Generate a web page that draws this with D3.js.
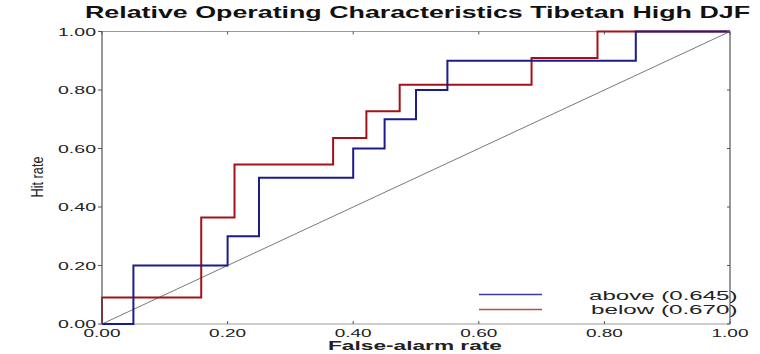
<!DOCTYPE html>
<html><head><meta charset="utf-8">
<script src="https://cdn.jsdelivr.net/npm/d3@7"></script>
<style>body{margin:0;background:#fff}svg{display:block}</style>
</head><body><svg id="c" width="760" height="354"></svg>
<script>
const title = "Relative Operating Characteristics Tibetan High DJF";
const xLabel = "False-alarm rate";
const yLabel = "Hit rate";
const ticks = [0, 0.2, 0.4, 0.6, 0.8, 1.0];
const tickLabels = ["0.00", "0.20", "0.40", "0.60", "0.80", "1.00"];
const seriesNames = ["above (0.645)", "below (0.670)"];
const seriesColors = ["#1c1c8e", "#a31218"];
const legendColors = ["#3b3ba3", "#c24a4a"];
// ROC points (false-alarm rate, hit rate), drawn as steps
const aboveFAR = [0, 0.05, 0.20, 0.25, 0.40, 0.45, 0.50, 0.55, 0.85, 1.00];
const aboveHR  = [0, 0.20, 0.30, 0.50, 0.60, 0.70, 0.80, 0.90, 1.00, 1.00];
const belowFAR = [0, 0, 0.158, 0.211, 0.368, 0.421, 0.474, 0.684, 0.789, 1.00];
const belowHR  = [0, 0.091, 0.364, 0.545, 0.636, 0.727, 0.818, 0.909, 1.00, 1.00];

const svg = d3.select("#c");
const L = 102, R = 730, T = 31.5, B = 324;
const x = d3.scaleLinear().domain([0, 1]).range([L, R]);
const y = d3.scaleLinear().domain([0, 1]).range([B, T]);
const ff = "Liberation Sans, Arial, sans-serif";

svg.append("text").attr("x", 417.5).attr("y", 18).attr("text-anchor", "middle")
  .attr("font-family", ff).attr("font-weight", "bold")
  .attr("font-size", 16.5).attr("textLength", 665).attr("lengthAdjust", "spacingAndGlyphs")
  .attr("fill", "#111").text(title);

// diagonal
svg.append("line").attr("x1", x(0)).attr("y1", y(0)).attr("x2", x(1)).attr("y2", y(1))
  .attr("stroke", "#6a6a6a").attr("stroke-width", 0.9);

// frame top/bottom
svg.append("line").attr("x1", L).attr("x2", R).attr("y1", T).attr("y2", T).attr("stroke", "#9a9a9a").attr("stroke-width", 1.2);
svg.append("line").attr("x1", L).attr("x2", R).attr("y1", B).attr("y2", B).attr("stroke", "#9a9a9a").attr("stroke-width", 1.2);

const line = d3.line().x(d => x(d[0])).y(d => y(d[1])).curve(d3.curveStepAfter);
const below = belowFAR.map((v, i) => [v, belowHR[i]]);
const above = aboveFAR.map((v, i) => [v, aboveHR[i]]);
svg.append("path").attr("d", line(below)).attr("fill", "none").attr("stroke", seriesColors[1]).attr("stroke-width", 2);
svg.append("path").attr("d", line(above)).attr("fill", "none").attr("stroke", seriesColors[0]).attr("stroke-width", 2);

// left / right axis lines
svg.append("line").attr("x1", L).attr("x2", L).attr("y1", T).attr("y2", B).attr("stroke", "#555").attr("stroke-width", 1.2);
svg.append("line").attr("x1", R).attr("x2", R).attr("y1", T).attr("y2", B).attr("stroke", "#555").attr("stroke-width", 1.2);

ticks.forEach((t, i) => {
  svg.append("line").attr("x1", L - 4).attr("x2", L).attr("y1", y(t)).attr("y2", y(t)).attr("stroke", "#555");
  svg.append("line").attr("x1", R - 3).attr("x2", R).attr("y1", y(t)).attr("y2", y(t)).attr("stroke", "#555");
  svg.append("line").attr("x1", x(t)).attr("x2", x(t)).attr("y1", T).attr("y2", T + 3).attr("stroke", "#555");
  svg.append("line").attr("x1", x(t)).attr("x2", x(t)).attr("y1", B - 3).attr("y2", B).attr("stroke", "#555");
  svg.append("text").attr("x", L - 6).attr("y", y(t) + 4).attr("text-anchor", "end")
    .attr("font-family", ff).attr("font-size", 11).attr("textLength", 38).attr("lengthAdjust", "spacingAndGlyphs")
    .attr("fill", "#222").text(tickLabels[i]);
  svg.append("text").attr("x", x(t)).attr("y", B + 13).attr("text-anchor", "middle")
    .attr("font-family", ff).attr("font-size", 10.5).attr("textLength", 37).attr("lengthAdjust", "spacingAndGlyphs")
    .attr("fill", "#222").text(tickLabels[i]);
});

svg.append("text").attr("x", 415).attr("y", 350).attr("text-anchor", "middle")
  .attr("font-family", ff).attr("font-weight", "bold")
  .attr("font-size", 12).attr("textLength", 174).attr("lengthAdjust", "spacingAndGlyphs")
  .attr("fill", "#222").text(xLabel);

svg.append("text").attr("transform", "translate(42.5,177) rotate(-90)").attr("text-anchor", "middle")
  .attr("font-family", ff)
  .attr("font-size", 17).attr("textLength", 41).attr("lengthAdjust", "spacingAndGlyphs")
  .attr("fill", "#222").text(yLabel);

// legend
seriesNames.forEach((n, i) => {
  const ly = 294.5 + i * 15;
  svg.append("line").attr("x1", 479).attr("x2", 542).attr("y1", ly).attr("y2", ly)
    .attr("stroke", legendColors[i]).attr("stroke-width", 1.6);
  svg.append("text").attr("x", 737.5).attr("y", 299.5 + i * 14).attr("text-anchor", "end")
    .attr("font-family", ff).attr("font-size", 12.5)
    .attr("textLength", i === 0 ? 148.5 : 146.5).attr("lengthAdjust", "spacingAndGlyphs")
    .attr("fill", "#222").text(n);
});
</script></body></html>
